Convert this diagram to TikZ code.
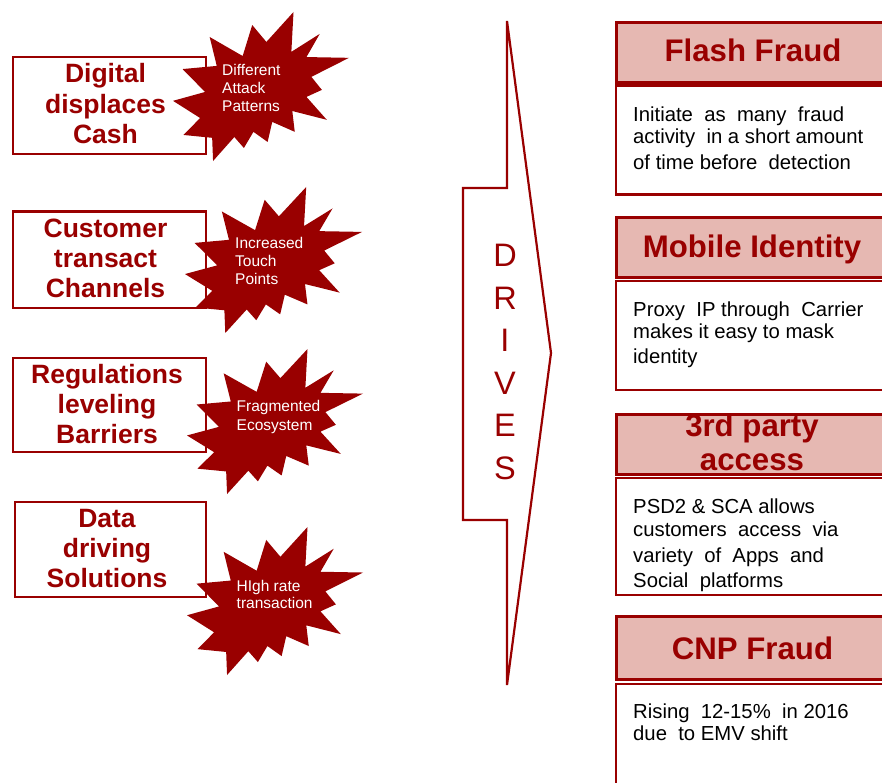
\documentclass[tikz,border=0pt]{standalone}
\usepackage{fontspec}
\setmainfont{Liberation Sans}
\definecolor{brick}{HTML}{990000}
\definecolor{blush}{HTML}{E6B8B2}
\tikzset{
  burst/.pic={
    \fill[brick] (530.6,201.0) -- (684.7,0) -- (672.5,267.5) -- (833.7,146.9)
      -- (758.3,302.4) -- (1000,307.6) -- (786.3,435.3) -- (845.8,522.7)
      -- (758.3,569.9) -- (873.9,723.7) -- (677.8,664.4) -- (691.8,804.2)
      -- (563.9,737.7) -- (537.6,872.3) -- (457.0,804.2) -- (402.8,912.6)
      -- (348.5,839.1) -- (227.6,1000) -- (222.5,844.4) -- (59.5,825.2)
      -- (154.2,711.6) -- (0,596.2) -- (182.2,536.7) -- (54.3,382.9)
      -- (248.7,361.9) -- (208.4,167.8) -- (395.8,295.5) -- (450.1,87.4) -- cycle;
  },
  causebox/.style={draw=brick, line width=2.4pt, anchor=north west, inner sep=0pt, minimum width=193pt},
  headbox/.style={draw=brick, fill=blush, line width=2.8pt, anchor=north west, inner sep=0pt, minimum width=300pt},
  bodybox/.style={draw=brick, fill=white, line width=2.4pt, anchor=north west, inner sep=0pt, minimum width=300pt},
  causetext/.style={font=\fontsize{26.5}{30}\selectfont\bfseries, text=brick, anchor=base, inner sep=0pt},
  bursttext/.style={font=\fontsize{15.5}{18}\selectfont, text=white, anchor=base west, inner sep=0pt},
  headtext/.style={font=\fontsize{31.2}{34}\selectfont\bfseries, text=brick, anchor=base, inner sep=0pt},
  bodytext/.style={font=\fontsize{20.3}{24}\selectfont, text=black, anchor=base west, inner sep=0pt},
  drivetext/.style={font=\fontsize{32.5}{36}\selectfont, text=brick, anchor=base, inner sep=0pt},
}
\begin{document}
\begin{tikzpicture}[x=1pt, y=-1pt]
\useasboundingbox[fill=white] (0,0) rectangle (882,783);

% cause boxes on the left
\node[causebox, minimum height=97pt] (c1) at (12,56) {};
\node[causebox, minimum height=96pt] (c2) at (12,210.5) {};
\node[causebox, minimum height=94pt] (c3) at (12,357) {};
\node[causebox, minimum width=191pt, minimum height=95pt] (c4) at (14,501) {};

% starbursts
\pic[xscale=0.176, yscale=0.149] at (173,12) {burst};
\pic[xscale=0.177, yscale=0.146] at (185,187) {burst};
\pic[xscale=0.176, yscale=0.145] at (187,349) {burst};
\pic[xscale=0.176, yscale=0.148] at (187,527) {burst};

% cause labels
\node[causetext] (c1a) at (105.5,83) {Digital};
\node[causetext] (c1b) at (105.5,113.5) {displaces};
\node[causetext] (c1c) at (105.5,143.5) {Cash};
\node[causetext] (c2a) at (105.5,238) {Customer};
\node[causetext] (c2b) at (105.5,268) {transact};
\node[causetext] (c2c) at (105.5,298) {Channels};
\node[causetext] (c3a) at (107,383) {Regulations};
\node[causetext] (c3b) at (107,413) {leveling};
\node[causetext] (c3c) at (107,443.5) {Barriers};
\node[causetext] (c4a) at (107,527) {Data};
\node[causetext] (c4b) at (107,557) {driving};
\node[causetext] (c4c) at (107,587.5) {Solutions};

% burst labels
\node[bursttext] (s1a) at (222,75.7) {Different};
\node[bursttext] (s1b) at (222,93.5) {Attack};
\node[bursttext] (s1c) at (222,111.5) {Patterns};
\node[bursttext] (s2a) at (235,248.3) {Increased};
\node[bursttext] (s2b) at (235,266.2) {Touch};
\node[bursttext] (s2c) at (235,284) {Points};
\node[bursttext] (s3a) at (236.5,411.7) {Fragmented};
\node[bursttext] (s3b) at (236.5,430) {Ecosystem};
\node[bursttext] (s4a) at (236.5,591.7) {HIgh rate};
\node[bursttext] (s4b) at (236.5,608.5) {transaction};

% DRIVES arrow
\coordinate (dtop) at (507,21);
\coordinate (dtip) at (551,353);
\coordinate (dbot) at (507,685);
\draw[brick, line width=2.2pt, line join=miter]
  (dtop) -- (507,188) -- (463,188) -- (463,520) -- (507,520) -- (dbot) -- (dtip) -- cycle;
\foreach \ch [count=\i from 0] in {D,R,I,V,E,S}
  \node[drivetext] (drv\i) at (505,266.5+42.5*\i) {\ch};

% result panels on the right
\node[headbox, minimum height=60pt] (h1) at (615,21) {};
\node[bodybox, minimum height=109pt] (b1) at (615,84.5) {};
\node[headbox, minimum height=60pt] (h2) at (615,216) {};
\node[bodybox, minimum height=109pt] (b2) at (615,279.5) {};
\node[headbox, minimum height=60pt] (h3) at (615,413) {};
\node[bodybox, minimum height=117pt] (b3) at (615,476.5) {};
\node[headbox, minimum height=63pt] (h4) at (615,615) {};
\node[bodybox, minimum height=130pt] (b4) at (615,682.5) {};

\node[headtext] (h1t) at (753,61.7) {Flash Fraud};
\node[headtext] (h2t) at (752,257.3) {Mobile\ Identity};
\node[headtext] (h3t) at (752,436.7) {3rd party};
\node[headtext] (h3u) at (752,470.7) {access};
\node[headtext] (h4t) at (752.5,659.3) {CNP Fraud};

\node[bodytext] (b1a) at (633,121.7) {Initiate\ \ as\ \ many\ \ fraud};
\node[bodytext] (b1b) at (633,144) {activity\ \ in a short amount};
\node[bodytext] (b1c) at (633,169.3) {of time before\ \ detection};
\node[bodytext] (b2a) at (633,316) {Proxy\ \ IP through\ \ Carrier};
\node[bodytext] (b2b) at (633,338.3) {makes it easy to mask};
\node[bodytext] (b2c) at (633,363.3) {identity};
\node[bodytext] (b3a) at (633,513.3) {PSD2 \& SCA allows};
\node[bodytext] (b3b) at (633,536) {customers\ \ access\ \ via};
\node[bodytext] (b3c) at (633,562.3) {variety\ \ of\ \ Apps\ \ and};
\node[bodytext] (b3d) at (633,587.3) {Social\ \ platforms};
\node[bodytext] (b4a) at (633,718.3) {Rising\ \ 12-15\%\ \ in 2016};
\node[bodytext] (b4b) at (633,740) {due\ \ to EMV shift};
\end{tikzpicture}
\end{document}
